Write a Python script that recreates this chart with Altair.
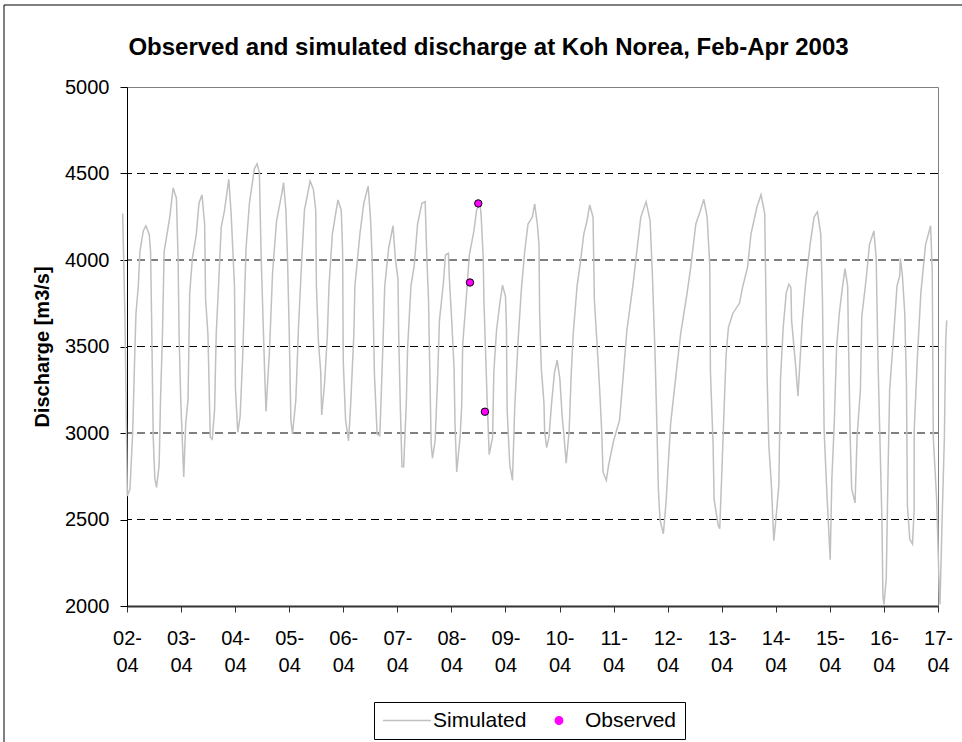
import json
import altair as alt
import pandas as pd

# ---- data (day of April 2003, discharge m3/s) ----
sim_day = [
    1.920, 1.963, 2.006, 2.055, 2.104, 2.147, 2.166, 2.209, 2.239, 2.301,
    2.350, 2.411, 2.436, 2.454, 2.485, 2.515, 2.546, 2.595, 2.620, 2.656,
    2.687, 2.791, 2.853, 2.914, 2.945, 2.963, 2.994, 3.049, 3.086, 3.129,
    3.160, 3.209, 3.282, 3.331, 3.387, 3.436, 3.454, 3.497, 3.540, 3.577,
    3.620, 3.650, 3.699, 3.742, 3.804, 3.883, 3.926, 3.988, 4.006, 4.049,
    4.092, 4.141, 4.202, 4.264, 4.356, 4.405, 4.448, 4.479, 4.509, 4.552,
    4.571, 4.601, 4.632, 4.693, 4.767, 4.865, 4.896, 4.939, 4.969, 5.000,
    5.031, 5.061, 5.123, 5.172, 5.233, 5.282, 5.337, 5.387, 5.448, 5.491,
    5.503, 5.540, 5.583, 5.601,
    5.656, 5.706, 5.736, 5.798, 5.859, 5.902, 5.963, 5.988, 6.000, 6.043,
    6.098, 6.135, 6.196, 6.215, 6.307, 6.380, 6.460, 6.503, 6.534, 6.552,
    6.577, 6.626, 6.675, 6.706, 6.736, 6.767, 6.840, 6.920, 6.963, 7.012,
    7.025, 7.055, 7.086, 7.117, 7.166, 7.190, 7.252, 7.313, 7.374, 7.454,
    7.515, 7.546, 7.577, 7.595, 7.626, 7.650, 7.699, 7.742, 7.779, 7.853,
    7.890, 7.945, 7.963, 8.006, 8.049, 8.067, 8.098, 8.160, 8.190, 8.209,
    8.282, 8.331, 8.417, 8.466, 8.528, 8.552, 8.589, 8.601, 8.638, 8.663,
    8.699, 8.761, 8.785, 8.834, 8.896, 8.945, 9.000, 9.018, 9.031, 9.080,
    9.129, 9.172, 9.233, 9.294, 9.356, 9.417,
    9.497, 9.540, 9.589, 9.620, 9.632, 9.663, 9.712, 9.724, 9.761, 9.804,
    9.853, 9.908, 9.957, 10.006, 10.049, 10.080, 10.123, 10.178, 10.215, 10.252,
    10.325, 10.387, 10.448, 10.509, 10.558, 10.620, 10.644, 10.706, 10.742, 10.779,
    10.804, 10.865, 10.908, 11.000, 11.110, 11.184, 11.245, 11.356, 11.429, 11.503,
    11.601, 11.675, 11.718, 11.767, 11.798, 11.828, 11.859, 11.920, 11.969, 12.055,
    12.153, 12.239, 12.350, 12.423, 12.521, 12.607, 12.669, 12.730, 12.779, 12.791,
    12.840, 12.859, 12.933, 12.963,
    13.000, 13.043, 13.081, 13.124, 13.205, 13.329, 13.391, 13.478, 13.540, 13.652,
    13.727, 13.795, 13.807, 13.839, 13.870, 13.919, 13.963, 13.994, 14.056, 14.087,
    14.137, 14.193, 14.242, 14.280, 14.292, 14.366, 14.410, 14.447, 14.491, 14.553,
    14.634, 14.708, 14.770, 14.832, 14.863, 14.894, 14.944, 15.006, 15.037, 15.081,
    15.124, 15.174, 15.236, 15.280, 15.329, 15.342, 15.379, 15.404, 15.466, 15.503,
    15.565, 15.590, 15.671, 15.733, 15.814, 15.857, 15.888, 15.919, 15.963, 15.981,
    16.000, 16.043, 16.075, 16.106, 16.168, 16.242, 16.292, 16.304, 16.342, 16.385,
    16.416, 16.435, 16.478, 16.528, 16.559, 16.560, 16.621, 16.683, 16.770, 16.863,
    16.894, 16.913, 16.975, 17.019, 17.037, 17.081, 17.118, 17.143, 17.161,
]
sim_q = [
    4268, 3651, 2636, 2676, 2994, 3492, 3691, 3850, 4049, 4168,
    4198, 4148, 4049, 3691, 2974, 2736, 2686, 2815, 3193, 3571,
    4049, 4248, 4417, 4357, 4009, 3571, 3193, 2746, 3054, 3193,
    3810, 4009, 4148, 4328, 4377, 4208, 3770, 3571, 2974, 2964,
    3134, 3571, 3890, 4188, 4288, 4467, 4268, 3850, 3253, 3004,
    3094, 3452, 4069, 4328, 4527, 4556, 4507, 4049, 3731, 3293,
    3124, 3293, 3452, 3930, 4228, 4387, 4447, 4288, 4009, 3591,
    3074, 2994, 3193, 3611, 4009, 4288, 4377, 4457, 4407, 4288,
    3850, 3532, 3353, 3104,
    3293, 3571, 3850, 4148, 4268, 4347, 4288, 4049, 3412, 3074,
    2955, 3154, 3571, 3850, 4148, 4328, 4427, 4248, 4009, 3731,
    3333, 2994, 2984, 3253, 3532, 3850, 4069, 4198, 4009, 3890,
    3571, 3154, 2805, 2805, 3173, 3492, 3850, 3969, 4208, 4328,
    4337, 4009, 3770, 3452, 2935, 2855, 2955, 3293, 3651, 3870,
    4029, 4039, 3890, 3651, 3372, 3054, 2775, 2974, 3154, 3512,
    3810, 4029, 4168, 4288, 4328, 4248, 4009, 3770, 3412, 3173,
    2875, 2974, 3353, 3591, 3751, 3854, 3790, 3611, 3134, 2815,
    2726, 3154, 3532, 3830, 4049, 4208,
    4248, 4324, 4208, 4089, 3691, 3372, 3173, 3014, 2915, 2974,
    3173, 3353, 3422, 3313, 3094, 2994, 2825, 3014, 3333, 3571,
    3850, 3989, 4148, 4228, 4318, 4248, 3770, 3452, 3253, 3014,
    2775, 2726, 2815, 2955, 3074, 3353, 3591, 3850, 4049, 4248,
    4337, 4228, 3910, 3452, 3074, 2676, 2497, 2417, 2596, 3054,
    3333, 3571, 3790, 3950, 4208, 4288, 4351, 4248, 3969, 3353,
    2935, 2616, 2467, 2447,
    2756, 3134, 3452, 3611, 3691, 3751, 3850, 3959, 4148, 4308,
    4377, 4268, 4009, 3333, 2935, 2696, 2377, 2477, 2696, 3313,
    3611, 3810, 3860, 3840, 3651, 3392, 3213, 3412, 3651, 3870,
    4089, 4248, 4278, 4148, 3770, 3014, 2656, 2268, 2736, 3054,
    3492, 3691, 3850, 3950, 3850, 3571, 2935, 2676, 2596, 2974,
    3253, 3671, 3890, 4089, 4168, 4009, 3452, 3054, 2497, 2059,
    2009, 2159, 2756, 3253, 3512, 3850, 3910, 4009, 3910, 3691,
    3293, 2576, 2387, 2358, 2557, 3014, 3452, 3810, 4089, 4198,
    3930, 2974, 2616, 2139, 2009, 2557, 2974, 3532, 3651,
]
obs_day = [8.344, 8.497, 8.620]
obs_q = [3870, 4327, 3123]

series_names = ["Simulated", "Observed"]
series_colors = ["#c0c0c0", "#ff00ff"]
legend_shapes = ["stroke", "circle"]
legend_sizes = [2304, 55]

y_ticks = [2000, 2500, 3000, 3500, 4000, 4500, 5000]
grid_values = [2500, 3000, 3500, 4000, 4500]
x_ticks = [2, 3, 4, 5, 6, 7, 8, 9, 10, 11, 12, 13, 14, 15, 16, 17]
x_labels = ["02-04", "03-04", "04-04", "05-04", "06-04", "07-04", "08-04", "09-04",
            "10-04", "11-04", "12-04", "13-04", "14-04", "15-04", "16-04", "17-04"]

FONT = "Liberation Sans"
W, H = 811, 519

sim_df = pd.DataFrame({"day": sim_day, "q": sim_q, "series": "Simulated"})
obs_df = pd.DataFrame({"day": obs_day, "q": obs_q, "series": "Observed"})
grid_df = pd.DataFrame({"q": grid_values})

arr = json.dumps(x_labels)
label_expr = (f"[substring({arr}[datum.value - 2], 0, 3), "
              f"substring({arr}[datum.value - 2], 3)]")

x_scale = alt.Scale(domain=[2, 17], nice=False, zero=False)
y_scale = alt.Scale(domain=[2000, 5000], nice=False, zero=False)

x_axis = alt.Axis(values=x_ticks, labelExpr=label_expr, title=None, grid=False,
                  domainColor="#333333", domainWidth=2, tickColor="#333333",
                  tickSize=6, labelFont=FONT, labelFontSize=20, labelColor="black",
                  labelPadding=16, labelLineHeight=27, labelOverlap=False,
                  labelFlush=False)
y_axis = alt.Axis(values=y_ticks, format="d", title="Discharge [m3/s]", grid=False,
                  domainColor="black", tickColor="black", tickSize=7,
                  labelFont=FONT, labelFontSize=20, labelColor="black",
                  labelPadding=11, titleFont=FONT, titleFontSize=20,
                  titleFontWeight="bold", titleColor="black", titleX=-85,
                  titleY=H / 2, titleAngle=270, titleBaseline="middle",
                  titleAlign="center")

legend = alt.Legend(title=None, orient="none", legendX=247, legendY=615,
                    direction="horizontal", columns=2, strokeColor="black",
                    fillColor="white", padding=8, labelFont=FONT, labelFontSize=21,
                    labelColor="black", labelOffset=1, columnPadding=7,
                    symbolStrokeWidth=1.5, symbolStrokeColor="#c0c0c0",
                    clipHeight=21)

color = alt.Color("series:N", scale=alt.Scale(domain=series_names, range=series_colors),
                  legend=legend)
x_enc = alt.X("day:Q", scale=x_scale, axis=x_axis)
y_enc = alt.Y("q:Q", scale=y_scale, axis=y_axis)

grid = alt.Chart(grid_df).mark_rule(color="black", strokeWidth=1, strokeDash=[8, 5]).encode(
    y=y_enc
)

line = alt.Chart(sim_df).mark_line(strokeWidth=1.5).encode(
    x=x_enc, y=y_enc, color=color
)

points = alt.Chart(obs_df).mark_point(filled=True, stroke="black", strokeWidth=1,
                                      opacity=1).encode(
    x=x_enc, y=y_enc, color=color,
    shape=alt.Shape("series:N", scale=alt.Scale(domain=series_names, range=legend_shapes),
                    legend=legend),
    size=alt.Size("series:N", scale=alt.Scale(domain=series_names, range=legend_sizes),
                  legend=legend),
)

frame = alt.Chart(pd.DataFrame({"k": [0]})).mark_rect(
    fillOpacity=0, stroke="black", strokeWidth=1
).encode(x=alt.value(-123), x2=alt.value(900), y=alt.value(-82), y2=alt.value(700))

chart = alt.layer(grid, line, points, frame).properties(
    width=W, height=H,
    title=alt.TitleParams("Observed and simulated discharge at Koh Norea, Feb-Apr 2003",
                          font=FONT, fontSize=24, fontWeight="bold", color="black",
                          anchor="middle", frame="group", offset=0, baseline="bottom",
                          dy=79, dx=-44),
    padding={"left": 127, "top": 87, "right": 24, "bottom": 136},
    autosize=alt.AutoSizeParams(type="none"),
    background="white",
).configure_view(stroke="#808080", strokeWidth=1)

chart.save("out.html", embed_options={"renderer": "svg", "actions": False})
